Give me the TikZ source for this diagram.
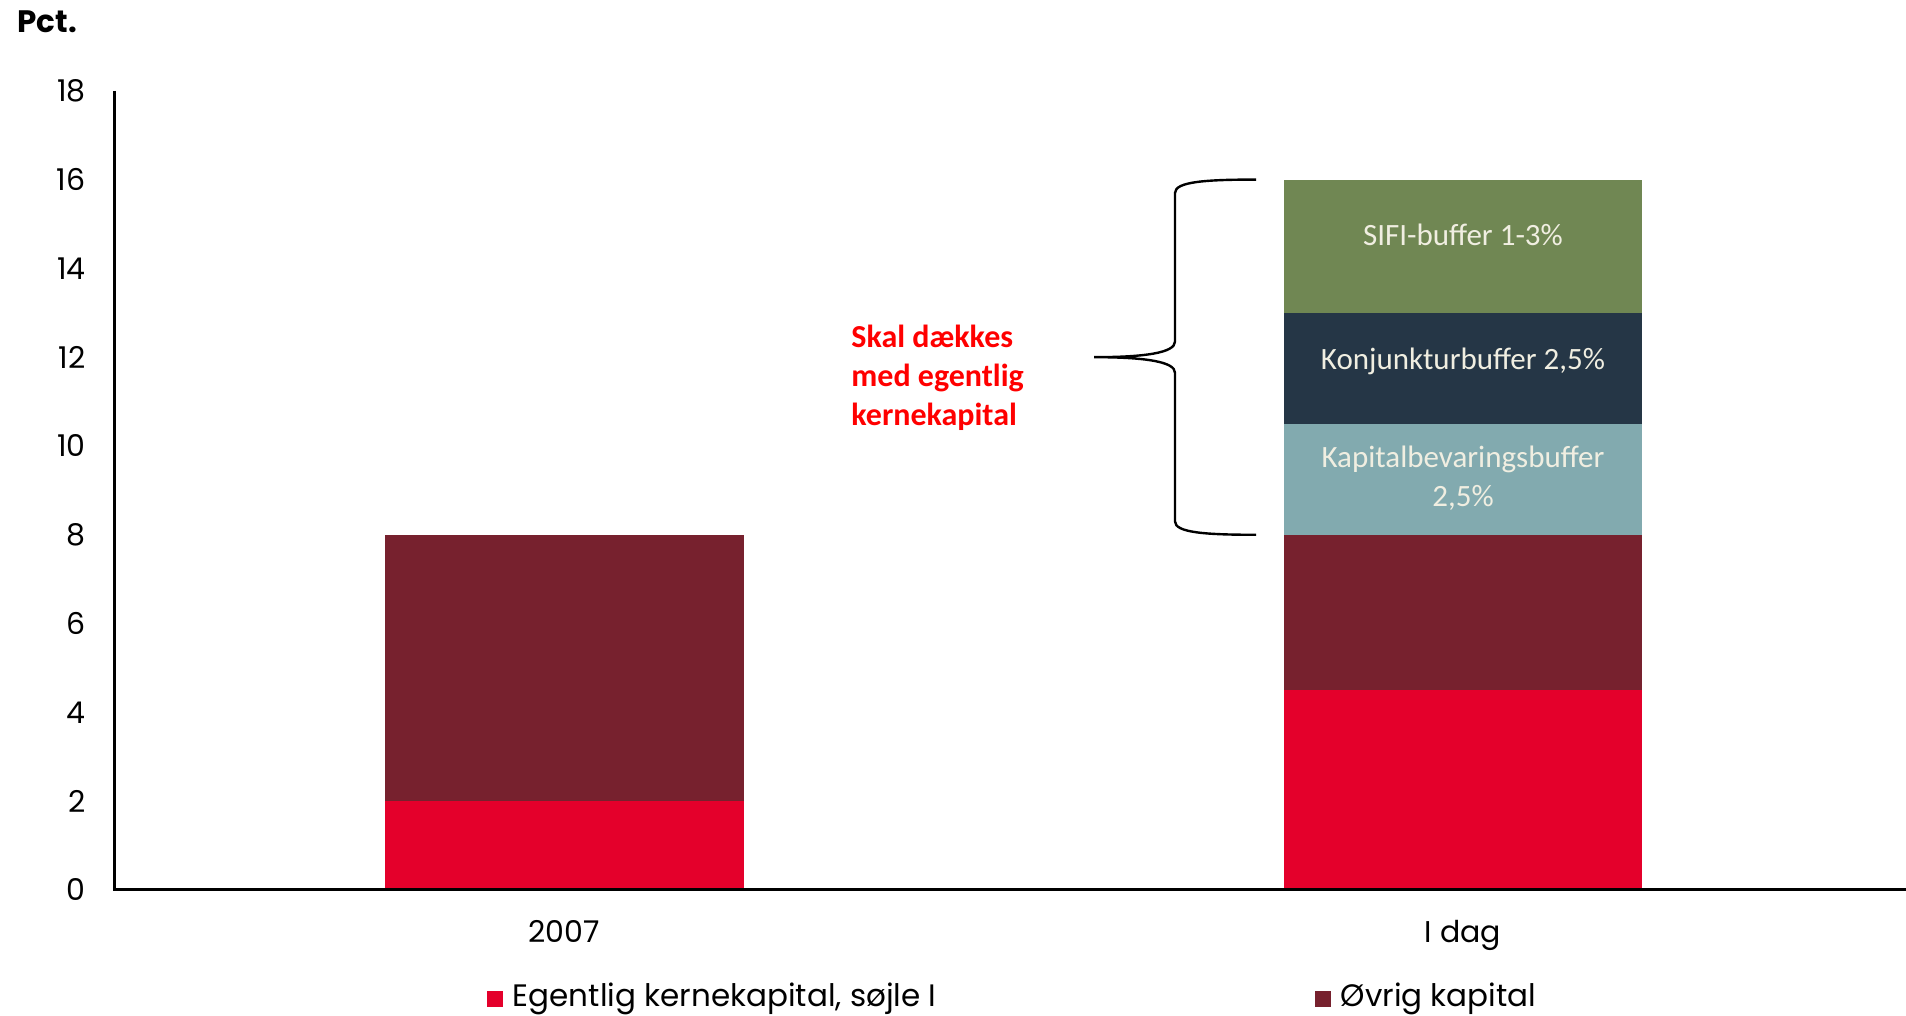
\documentclass[tikz,border=0pt]{standalone}
\usepackage{fontspec}
\setmainfont{Poppins}
\newfontfamily\calibri{Carlito}
\usetikzlibrary{positioning}

\definecolor{eqColor}{RGB}{228,0,43}
\definecolor{restColor}{RGB}{119,33,46}
\definecolor{bevColor}{RGB}{130,170,175}
\definecolor{konjColor}{RGB}{37,54,70}
\definecolor{sifiColor}{RGB}{112,135,83}
\definecolor{barText}{RGB}{240,238,225}
\definecolor{noteRed}{RGB}{255,0,0}

\tikzset{
  ticklabel/.style={anchor=east,inner sep=0pt,font=\fontsize{15}{18}\selectfont},
  catlabel/.style={anchor=base,inner sep=0pt,font=\fontsize{15}{18}\selectfont},
  barlabel/.style={align=center,inner sep=0pt,color=barText,font=\calibri\fontsize{15.5}{19.5}\selectfont},
  legendbox/.style={fill=#1,inner sep=0pt,minimum size=8pt},
  legendtext/.style={anchor=west,inner sep=0pt,font=\fontsize{15.5}{18}\selectfont}
}

\begin{document}
\begin{tikzpicture}[x=0.5pt,y=22.2pt]
\useasboundingbox (-115,-2.838) rectangle (1791,20.045);
% bars
\fill[eqColor] (270,0) rectangle (629,2);
\fill[restColor] (270,2) rectangle (629,8);
\fill[eqColor] (1169,0) rectangle (1527,4.5);
\fill[restColor] (1169,4.5) rectangle (1527,8);
\fill[bevColor] (1169,8) rectangle (1527,10.5);
\fill[konjColor] (1169,10.5) rectangle (1527,13);
\fill[sifiColor] (1169,13) rectangle (1527,16);
\node[barlabel] (sifi) at (1348,14.75) {SIFI-buffer 1-3\%};
\node[barlabel] (konj) at (1348,11.91) {Konjunkturbuffer 2,5\%};
\node[barlabel] (bev) at (1348,9.28) {Kapitalbevaringsbuffer\\2,5\%};
% brace
\draw[line width=1.2pt] (1141,16) .. controls (1090,16) and (1060,15.95) .. (1060,15.7) -- (1060,12.35)
  .. controls (1060,12.1) and (1030,12) .. (979,12) .. controls (1030,12) and (1060,11.9) .. (1060,11.65)
  -- (1060,8.3) .. controls (1060,8.05) and (1090,8) .. (1141,8);
\node[anchor=west,align=left,inner sep=0pt,color=noteRed,font=\calibri\bfseries\fontsize{16}{19.5}\selectfont] (note) at (736,11.53) {Skal dækkes\\med egentlig\\kernekapital};
% axes
\draw[line width=1.5pt] (0,18) -- (0,0) -- (1791,0);
\foreach \y in {0,2,...,18}
  \node[ticklabel] (tick\y) at (-29,\y) {\y};
\node[catlabel] (cat2007) at (449,-1.19) {2007};
\node[catlabel] (catidag) at (1348,-1.19) {I dag};
\node[anchor=west,inner sep=0pt,font=\bfseries\fontsize{15.5}{18}\selectfont] (pct) at (-98,19.55) {Pct.};
% legend
\node[legendbox=eqColor] (keyeq) at (380,-2.455) {};
\node[legendtext,right=4.5pt of keyeq] (keyeqtext) {Egentlig kernekapital, søjle I};
\node[legendbox=restColor] (keyrest) at (1208,-2.455) {};
\node[legendtext,right=4.5pt of keyrest] (keyresttext) {Øvrig kapital};
\end{tikzpicture}
\end{document}
